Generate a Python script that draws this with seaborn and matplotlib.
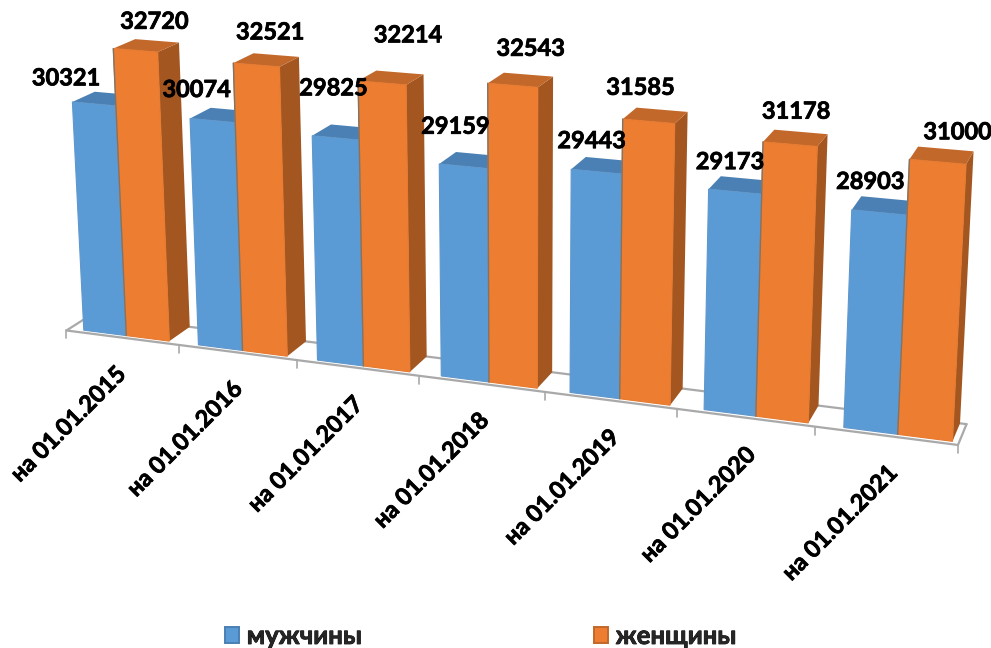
import numpy as np
import pandas as pd
import matplotlib
matplotlib.use('Agg')
import matplotlib.pyplot as plt
import matplotlib.patheffects as pe
import seaborn as sns
from matplotlib.patches import Patch, Polygon
from matplotlib.transforms import Transform, IdentityTransform

# chart data
dates = ['на 01.01.2015', 'на 01.01.2016', 'на 01.01.2017', 'на 01.01.2018',
         'на 01.01.2019', 'на 01.01.2020', 'на 01.01.2021']
men = [30321, 30074, 29825, 29159, 29443, 29173, 28903]
women = [32720, 32521, 32214, 32543, 31585, 31178, 31000]
series_names = ['мужчины', 'женщины']

# value axis starts here, it is hidden in the original
BASE = 20400
W, H = 991, 648
BAR_WIDTH = 0.75

# label offsets from the top of each bar, pixels
men_offsets = [(-28, -26), (-16, -31), (-2, -50), (-8, -40), (-5, -31), (-5, -30), (-9, -31)]
women_offsets = [(19, -29), (14, -33), (26, -48), (18, -37), (-8, -34), (6, -33), (20, -30)]

# camera of the fake 3d view: (category, value, depth) -> picture pixel
camera_anchors = [
    (-0.375, 30321, 0, 73, 101), (-0.375, BASE, 0, 84, 330),
    (0, 32720, 0, 113, 50), (0, BASE, 0, 127, 335),
    (0.375, 32720, 0, 157, 52), (0.375, BASE, 0, 169, 341),
    (0.375, 32720, 1, 178, 43), (0.375, BASE, 1, 189, 327),
    (0, 32720, 1, 136, 39),
    (5.625, 28903, 0, 852, 208), (5.625, BASE, 0, 844, 429),
    (6, 31000, 0, 910, 160), (6, BASE, 0, 898, 435),
    (6.375, 31000, 0, 965, 163), (6.375, BASE, 0, 952, 442),
    (6.375, 31000, 1, 972, 152), (6.375, BASE, 1, 959, 422),
    (6, 31000, 1, 917, 147), (5.625, 28903, 1, 866, 196),
]


def fit_camera(anchors):
    rows = []
    for x, v, z, px, py in anchors:
        p = [x, (v - BASE) / 10000, z, 1]
        rows.append(p + [0, 0, 0, 0] + [-px * c for c in p])
        rows.append([0, 0, 0, 0] + p + [-py * c for c in p])
    return np.linalg.svd(np.array(rows, dtype=float))[2][-1].reshape(3, 4)


CAM = fit_camera(camera_anchors)


def project(x, v, z=0.0):
    x, v = np.asarray(x, dtype=float), np.asarray(v, dtype=float)
    p = np.stack([x, (v - BASE) / 10000, np.full_like(x, z), np.ones_like(x)], axis=-1)
    q = p @ CAM.T
    return np.stack([q[..., 0] / q[..., 2], H - q[..., 1] / q[..., 2]], axis=-1)


class FrontPlane(Transform):
    input_dims = 2
    output_dims = 2
    is_affine = False

    def transform_non_affine(self, values):
        values = np.asarray(values)
        return project(values[..., 0], values[..., 1])


df = pd.DataFrame({
    'date': dates * 2,
    'count': men + women,
    'sex': [series_names[0]] * len(dates) + [series_names[1]] * len(dates),
})

sns.set_theme(style='white')
plt.rcParams['font.family'] = ['Lato', 'Open Sans', 'DejaVu Sans']

front_colors = ['#5B9BD5', '#ED7D31']
top_colors = ['#4A80B3', '#C2682A']
side_colors = ['#3F6E99', '#A3561F']
edge_colors = ['#5F97CC', '#E67A30']
heavy = [pe.withStroke(linewidth=0.55, foreground='black')]
FONT = dict(fontsize=17, fontweight='bold', color='black', path_effects=heavy)

fig = plt.figure(figsize=(W / 100, H / 100), dpi=100, facecolor='white')
ax = fig.add_axes([0, 0, 1, 1])
sns.barplot(data=df, x='date', y='count', hue='sex', palette=front_colors,
            width=BAR_WIDTH, gap=0, legend=False, ax=ax, saturation=1)
ax.set_ylim(BASE, 34000)
ax.axis('off')
to_px = IdentityTransform()

# floor of the chart, the ticks run a bit tighter than the bars
floor_color = '#A9A9A9'
xl, xr = -0.5, 6.42
FLOOR_FRONT, FLOOR_BACK = -0.15, 1.0
floor = np.array([project(xl, BASE, FLOOR_BACK), project(xl, BASE, FLOOR_FRONT),
                  project(xr, BASE, FLOOR_FRONT), project(xr, BASE, FLOOR_BACK)])
ax.plot(floor[:, 0], floor[:, 1], color=floor_color, lw=1.6, transform=to_px, zorder=1, clip_on=False)
back = project(np.array([xl, xr]), np.array([BASE, BASE]), FLOOR_BACK)
ax.plot(back[:, 0], back[:, 1], color=floor_color, lw=1.6, transform=to_px, zorder=1, clip_on=False)
for t in np.linspace(xl, xr, len(dates) + 1):
    p = project(t, BASE, FLOOR_FRONT)
    ax.plot([p[0], p[0]], [p[1], p[1] - 8], color=floor_color, lw=1.2, transform=to_px, zorder=1, clip_on=False)

# bars: seaborn draws the front faces, top and side are extruded from them
plane = FrontPlane()
for s, container in enumerate(ax.containers):
    for i, bar in enumerate(container):
        x0, x1 = bar.get_x(), bar.get_x() + bar.get_width()
        v = bar.get_y() + bar.get_height()
        bar.set_y(BASE)
        bar.set_height(v - BASE)
        order = 10 + i * 10 + s * 4
        side = [project(x1, BASE, 0), project(x1, v, 0), project(x1, v, 1), project(x1, BASE, 1)]
        top = [project(x0, v, 0), project(x1, v, 0), project(x1, v, 1), project(x0, v, 1)]
        ax.add_patch(Polygon(side, closed=True, fc=side_colors[s], ec='none', transform=to_px,
                             zorder=order, clip_on=False))
        ax.add_patch(Polygon(top, closed=True, fc=top_colors[s], ec='none', transform=to_px,
                             zorder=order + 1, clip_on=False))
        bar.set_transform(plane)
        bar.set_clip_on(False)
        bar.set_zorder(order + 2)
        bar.set_edgecolor(edge_colors[s])
        bar.set_linewidth(0.8)
        # grey shade where the two bars of a pair meet
        if s == 1:
            seam = np.array([project(x0, BASE, 0), project(x0, v, 0)])
            ax.plot(seam[:, 0], seam[:, 1], color='#7F7468', lw=1.0, transform=to_px,
                    zorder=order + 3, clip_on=False)

# value labels
for values, offsets, pos in [(men, men_offsets, -BAR_WIDTH / 4), (women, women_offsets, BAR_WIDTH / 4)]:
    for i, (val, off) in enumerate(zip(values, offsets)):
        p = project(i + pos, val)
        ax.text(p[0] + off[0], p[1] - off[1], str(val), transform=to_px, ha='center', va='center',
                zorder=200, clip_on=False, **FONT)

# category labels
for i, label in enumerate(dates):
    p = project(i, BASE)
    ax.text(p[0] - 12, p[1] - 26, label, transform=to_px, rotation=45, rotation_mode='anchor',
            ha='right', va='top', zorder=200, clip_on=False, **FONT)

handles = [Patch(fc=front_colors[k], ec=top_colors[k], lw=1.4, label=series_names[k]) for k in range(2)]
leg = fig.legend(handles=handles, loc='center', bbox_to_anchor=(481 / W, 1 - 636 / H), ncols=2,
                 frameon=False, handlelength=0.55, handleheight=0.55,
                 handletextpad=0.3, columnspacing=9.0, prop=dict(size=18.5, weight='bold'))
for txt in leg.get_texts():
    txt.set_path_effects(heavy)

fig.savefig('out.png', dpi=100, facecolor='white')
